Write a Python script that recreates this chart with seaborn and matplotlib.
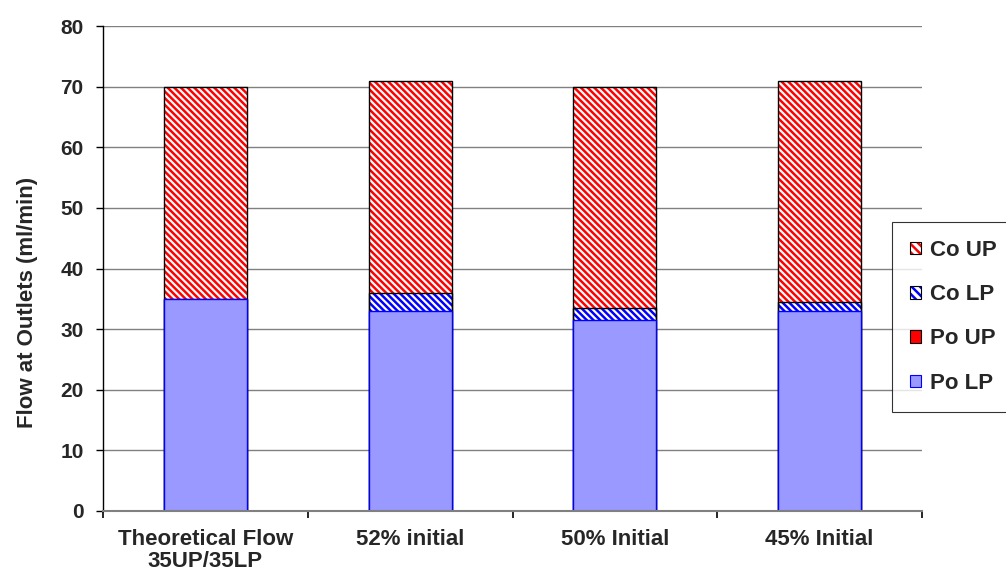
import matplotlib
matplotlib.use("Agg")
import matplotlib.pyplot as plt
from matplotlib.patches import Patch
from matplotlib.legend_handler import HandlerTuple
import seaborn as sns
import numpy as np

categories = ["Theoretical Flow\n35UP/35LP", "52% initial", "50% Initial", "45% Initial"]
po_lp = [35, 33, 31.5, 33]
po_up = [0, 0, 0, 0]
co_lp = [0, 3, 2, 1.5]
co_up = [35, 35, 36.5, 36.5]
series_names = ["Po LP", "Po UP", "Co LP", "Co UP"]
yticks = [0, 10, 20, 30, 40, 50, 60, 70, 80]

sns.set_style("white")
plt.rcParams['font.family'] = ['Liberation Sans', 'DejaVu Sans']
plt.rcParams['font.weight'] = 'bold'
plt.rcParams['hatch.linewidth'] = 1.8

fig = plt.figure(figsize=(10.06, 5.72), dpi=100)
ax = fig.add_axes([103/1006, 61/572, 819/1006, 485/572])

layers = [po_lp, po_up, co_lp, co_up]
cum = np.cumsum(np.array(layers, dtype=float), axis=0)

HATCH = "\\\\\\\\\\"
styles = {
    "Co UP": dict(face="white", hatch=HATCH, hcolor="#FF0000"),
    "Co LP": dict(face="white", hatch=HATCH, hcolor="#0000FF"),
    "Po UP": dict(face="#FF0000", hatch=None, edge="#FF0000", lw=0.0),
    "Po LP": dict(face="#9999FF", hatch=None, edge="#0000FF", lw=1.0),
}
BAR_W = 0.405

# hatched layers (drawn from the tallest cumulative downward)
for idx in [3, 2]:
    name = series_names[idx]
    st = styles[name]
    n0 = len(ax.patches)
    sns.barplot(x=categories, y=cum[idx], order=categories, width=BAR_W,
                color=st["face"], ax=ax, saturation=1)
    for p in ax.patches[n0:]:
        p.set_facecolor(st["face"])
        p.set_hatch(st["hatch"])
        p.set_edgecolor(st["hcolor"])
        p.set_linewidth(0)
        p.set_zorder(3)
# black outlines of hatched layers
for idx in [3, 2]:
    n0 = len(ax.patches)
    sns.barplot(x=categories, y=cum[idx], order=categories, width=BAR_W,
                fill=False, ax=ax)
    for p in ax.patches[n0:]:
        p.set_fill(False)
        p.set_edgecolor("black")
        p.set_linewidth(1.0)
        p.set_zorder(4)
# solid layers on top
for idx in [1, 0]:
    name = series_names[idx]
    st = styles[name]
    n0 = len(ax.patches)
    sns.barplot(x=categories, y=cum[idx], order=categories, width=BAR_W,
                color=st["face"], ax=ax, saturation=1)
    for p in ax.patches[n0:]:
        p.set_facecolor(st["face"])
        p.set_edgecolor(st["edge"])
        p.set_linewidth(st["lw"])
        p.set_zorder(5)

ax.set_xlim(-0.5, 3.5)
ax.set_ylim(0, 80)
ax.set_yticks(yticks)
ax.yaxis.grid(True, color="#808080", linewidth=1.0, zorder=0)
ax.xaxis.grid(False)
ax.set_axisbelow(True)
for s in ["top", "right"]:
    ax.spines[s].set_visible(False)
ax.spines["left"].set_color("black")
ax.spines["left"].set_linewidth(1.0)
ax.spines["bottom"].set_color("#808080")
ax.spines["bottom"].set_linewidth(1.5)
ax.spines["bottom"].set_zorder(6)

ax.tick_params(axis="y", which="major", direction="out", length=5, width=1, color="black",
               labelsize=15, left=True, pad=9)
ax.tick_params(axis="x", which="major", length=0, labelsize=16, pad=13)
ax.set_xticks(np.arange(-0.5, 4.0, 1.0), minor=True)
ax.tick_params(axis="x", which="minor", direction="out", length=5, width=1.2, color="black", bottom=True)
for lbl in ax.get_xticklabels() + ax.get_yticklabels():
    lbl.set_fontweight("bold")
for lbl in ax.get_xticklabels():
    lbl.set_linespacing(1.05)

ax.set_xlabel("")
ax.set_ylabel("Flow at Outlets (ml/min)", fontsize=16, fontweight="bold")
ax.yaxis.set_label_coords(-0.079, 0.43)

handles = []
for name in ["Co UP", "Co LP", "Po UP", "Po LP"]:
    st = styles[name]
    if st["hatch"]:
        h1 = Patch(facecolor="white", edgecolor=st["hcolor"], hatch="\\\\\\\\", linewidth=0)
        h2 = Patch(facecolor="none", edgecolor="black", linewidth=0.8)
        handles.append((h1, h2))
    else:
        handles.append(Patch(facecolor=st["face"], edgecolor="black" if name == "Po UP" else "#0000FF",
                             linewidth=0.8))
labels = ["Co UP", "Co LP", "Po UP", "Po LP"]

leg = fig.legend(handles=handles, labels=labels, loc="upper left",
                 bbox_to_anchor=(892/1006, 1 - 222/572),
                 handler_map={tuple: HandlerTuple(ndivide=1, pad=0)},
                 prop={"weight": "bold", "size": 16}, frameon=True, fancybox=False,
                 edgecolor="black", handlelength=0.5, handleheight=0.5, handletextpad=0.4,
                 labelspacing=1.05, borderpad=0.8, borderaxespad=0)
leg.get_frame().set_linewidth(0.8)

fig.savefig("out.png", dpi=100)
